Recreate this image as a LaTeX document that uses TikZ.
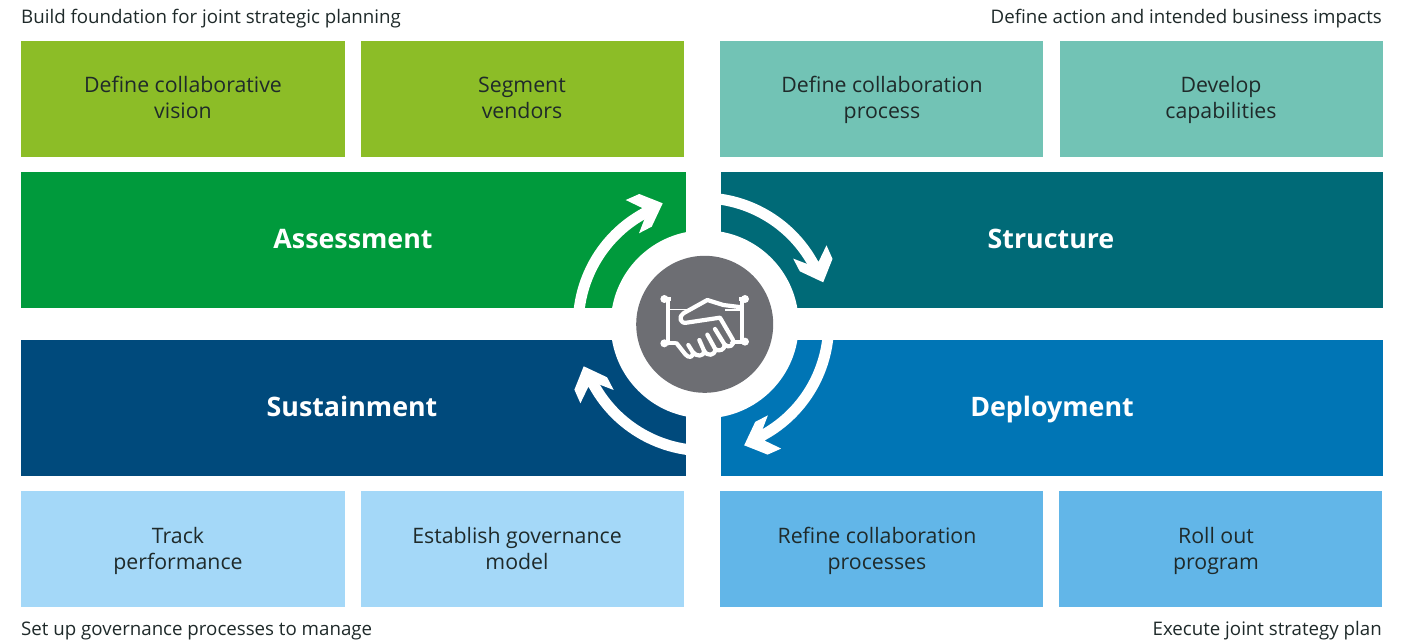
\documentclass[tikz,border=0pt]{standalone}
\usepackage{fontspec}
\setmainfont{Open Sans}
\definecolor{cLime}{HTML}{8CBD27}
\definecolor{cMint}{HTML}{72C3B5}
\definecolor{cGreen}{HTML}{009A3C}
\definecolor{cTeal}{HTML}{006A77}
\definecolor{cNavy}{HTML}{004A7C}
\definecolor{cBlue}{HTML}{0075B5}
\definecolor{cPale}{HTML}{A4D8F8}
\definecolor{cSky}{HTML}{62B6E8}
\definecolor{cGrey}{HTML}{6D6E73}
\definecolor{cInk}{HTML}{1F2A2A}
\tikzset{
  smallbox/.style={anchor=north west,minimum width=323pt,minimum height=116pt,inner sep=0pt},
  smalltext/.style={inner sep=0pt,align=center,text=cInk,font=\fontsize{21.3}{26}\selectfont,execute at begin node=\strut,execute at end node=\strut},
  bigbox/.style={anchor=north west,minimum height=136pt,inner sep=0pt},
  bigtext/.style={anchor=base,inner sep=0pt,text=white,font=\fontsize{26.8}{30}\selectfont\bfseries},
  caption/.style={inner sep=0pt,text=cInk,font=\fontsize{18.7}{22}\selectfont},
  iconline/.style={draw=white,line width=4.2pt,line cap=round,line join=round},
  icondot/.style={fill=white,circle,inner sep=0pt,minimum size=8pt},
}
\begin{document}
\begin{tikzpicture}[x=1pt,y=-1pt]
\fill[white] (0,0) rectangle (1416,642);
\useasboundingbox (0,0) rectangle (1416,642);
% captions
\node[caption,anchor=base west] (capA) at (21,23.5) {Build foundation for joint strategic planning};
\node[caption,anchor=base east] (capB) at (1382,23.5) {Define action and intended business impacts};
\node[caption,anchor=base west] (capC) at (21,635.5) {Set up governance processes to manage};
\node[caption,anchor=base east] (capD) at (1382,635.5) {Execute joint strategy plan};
% top row
\node[smallbox,fill=cLime,minimum width=324pt] (b1) at (21,41) {};
\node[smallbox,fill=cLime] (b2) at (361,41) {};
\node[smallbox,fill=cMint] (b3) at (720,41) {};
\node[smallbox,fill=cMint] (b4) at (1060,41) {};
\node[smalltext] (vision) at (183,101.5) {Define collaborative\\vision};
\node[smalltext] (segment) at (522,101.5) {Segment\\vendors};
\node[smalltext] (process) at (882,101.5) {Define collaboration\\process};
\node[smalltext] (develop) at (1221,101.5) {Develop\\capabilities};
% bands
\node[bigbox,fill=cGreen,minimum width=665pt] (assess) at (21,172) {};
\node[bigbox,fill=cTeal,minimum width=662pt] (struct) at (721,172) {};
\node[bigbox,fill=cNavy,minimum width=665pt] (sustain) at (21,340) {};
\node[bigbox,fill=cBlue,minimum width=662pt] (deploy) at (721,340) {};
% bottom row
\node[smallbox,fill=cPale,minimum width=324pt] (b5) at (21,491) {};
\node[smallbox,fill=cPale] (b6) at (361,491) {};
\node[smallbox,fill=cSky] (b7) at (720,491) {};
\node[smallbox,fill=cSky] (b8) at (1059,491) {};
\node[smalltext] (track) at (178,552.5) {Track\\performance};
\node[smalltext] (govern) at (517,552.5) {Establish governance\\model};
\node[smalltext] (refine) at (877,552.5) {Refine collaboration\\processes};
\node[smalltext] (rollout) at (1216,552.5) {Roll out\\program};
% band titles
\node[bigtext] (tA) at (353,248.3) {Assessment};
\node[bigtext] (tB) at (1051,248.3) {Structure};
\node[bigtext] (tC) at (352,416.3) {Sustainment};
\node[bigtext] (tD) at (1052,416.3) {Deployment};
% cycle arrows
\foreach \r/\dx in {0/0,-90/-2.5,-180/-2.5,-270/0}{
\begin{scope}[shift={(704.7+\dx,324.3)},x=1pt,y=1pt,rotate=\r]
  \draw[white,line width=11pt] (180:126.4) arc[start angle=180,end angle=117,radius=126.4pt];
  \fill[white] (-63,116.6) -- (-79,124.3) -- (-65.4,130.3) -- (-42,121) -- (-53,97.6) -- (-65.7,91) -- (-59.7,106.6) -- cycle;
\end{scope}}
% hub
\node[circle,fill=white,minimum size=188pt,inner sep=0pt] (hub) at (704.7,324.3) {};
\node[circle,fill=cGrey,minimum size=137pt,inner sep=0pt] (core) at (704.7,324.3) {};
% handshake icon
\begin{scope}[shift={(630,260)},x=0.3333pt,y=-0.3333pt]
  \draw[iconline] (103,117) -- (345,117);
  \fill[cGrey] (122,104) rectangle (326,146);
  \draw[iconline] (113,117) -- (113,250);
  \draw[iconline] (335,117) -- (335,245);
  \draw[iconline] (103,250) -- (140,250);
  \draw[iconline] (305,245) -- (345,245);
  \draw[white,line width=1.2pt] (113,148) -- (172,148);
  \draw[white,line width=1.2pt] (285,150) -- (335,150);
  \fill[cGrey] (160,178) -- (232,128) -- (280,140) -- (310,235) -- (270,280) -- (190,290) -- (140,250) -- (122,200) -- cycle;
  \draw[iconline] (335,142) -- (280,135) -- (232,120) -- (160,160) .. controls (145,170) and (150,192) .. (170,188) -- (270,173) -- (308,238) .. controls (316,256) and (296,266) .. (284,254) -- (255,207);
  \draw[iconline] (140,250) -- (166,283) .. controls (176,296) and (192,292) .. (188,276) -- (175,255);
  \draw[iconline] (188,276) .. controls (198,290) and (222,292) .. (222,272) -- (208,240);
  \draw[iconline] (222,272) .. controls (232,290) and (254,288) .. (256,268) -- (232,224);
  \draw[iconline] (256,268) .. controls (270,276) and (284,268) .. (284,254);
  \node[icondot] (d1) at (103,117) {};
  \node[icondot] (d2) at (345,117) {};
  \node[icondot] (d3) at (103,250) {};
  \node[icondot] (d4) at (345,245) {};
\end{scope}
\end{tikzpicture}
\end{document}
